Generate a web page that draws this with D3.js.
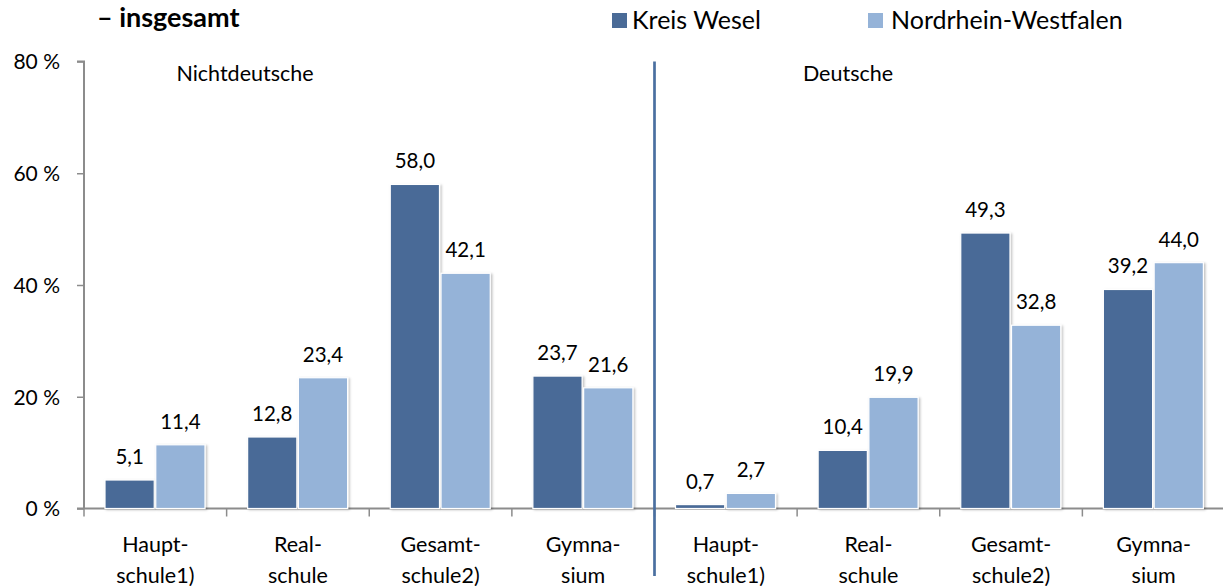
<!DOCTYPE html>
<html>
<head>
<meta charset="utf-8">
<script src="https://cdn.jsdelivr.net/npm/d3@7"></script>
<style>
  html, body { margin: 0; padding: 0; background: #fff; }
  svg { display: block; font-family: Lato, "Noto Sans", sans-serif; }
</style>
</head>
<body>
<svg id="chart" width="1223" height="586"></svg>
<script>
// ---- data ----
const groups = ["Nichtdeutsche", "Deutsche"];
const schoolTypes = ["Hauptschule1)", "Realschule", "Gesamtschule2)", "Gymnasium"];
const schoolLabelLines = [["Haupt-", "schule1)"], ["Real-", "schule"], ["Gesamt-", "schule2)"], ["Gymna-", "sium"]];
const seriesNames = ["Kreis Wesel", "Nordrhein-Westfalen"];
const kreisWesel = [5.1, 12.8, 58.0, 23.7, 0.7, 10.4, 49.3, 39.2];
const nrw = [11.4, 23.4, 42.1, 21.6, 2.7, 19.9, 32.8, 44.0];
const yTicks = [0, 20, 40, 60, 80];
const title = "– insgesamt";

const colors = ["#4a6b97", "#95b3d8"];

// ---- build ----
const categories = [];
groups.forEach((g, gi) => schoolTypes.forEach((s, si) => categories.push({ key: g + "|" + s, group: gi, type: si })));
const seriesValues = [kreisWesel, nrw];

const svg = d3.select("#chart");
const defs = svg.append("defs");
const f = defs.append("filter").attr("id", "shadow").attr("x", "-20%").attr("y", "-20%").attr("width", "140%").attr("height", "140%");
f.append("feDropShadow").attr("dx", 1.5).attr("dy", 1).attr("stdDeviation", 1.2).attr("flood-color", "#000").attr("flood-opacity", 0.25);

const x0 = d3.scaleBand().domain(categories.map(c => c.key)).range([84, 1225]).paddingInner(0).paddingOuter(0);
const x1 = d3.scaleBand().domain(seriesNames).range([21, 121]).paddingInner(0.03);
const y = d3.scaleLinear().domain([0, 80]).range([508.5, 61.5]);

// Title
svg.append("text").attr("x", 97).attr("y", 27).attr("font-size", 27).attr("font-weight", 700).attr("fill", "#000").text(title);

// Legend
const legendPos = [{ sx: 612, tx: 632 }, { sx: 868, tx: 891 }];
seriesNames.forEach((n, i) => {
  svg.append("rect").attr("x", legendPos[i].sx).attr("y", 13).attr("width", 15).attr("height", 15).attr("fill", colors[i]);
  svg.append("text").attr("x", legendPos[i].tx).attr("y", 29).attr("font-size", 25).attr("fill", "#000").text(n);
});

// Y axis
const yAxis = d3.axisLeft(y).tickValues(yTicks).tickSize(7).tickPadding(17).tickFormat(d => d + " %");
const gy = svg.append("g").attr("transform", "translate(84,0)").call(yAxis);
gy.select(".domain").attr("stroke", "#8c8c8c").attr("stroke-width", 2).attr("d", `M-7,${y(80)}H0V${y(0)}`);
gy.selectAll(".tick line").attr("stroke", "#8c8c8c").attr("stroke-width", 1.5);
gy.selectAll(".tick text").attr("font-size", 21).attr("fill", "#000").attr("font-family", "Lato, 'Noto Sans', sans-serif").attr("dy", "0.35em");

// X axis
const gx = svg.append("g").attr("transform", `translate(0,${y(0)})`);
gx.append("line").attr("x1", 77).attr("x2", 1223).attr("y1", 0).attr("y2", 0).attr("stroke", "#8c8c8c").attr("stroke-width", 2.2);
categories.forEach((c, i) => {
  gx.append("line").attr("x1", x0(c.key)).attr("x2", x0(c.key)).attr("y1", 0).attr("y2", 8).attr("stroke", "#8c8c8c").attr("stroke-width", 1.5);
  const cx = x0(c.key) + x0.bandwidth() / 2;
  const lines = schoolLabelLines[c.type];
  lines.forEach((ln, li) => {
    gx.append("text").attr("x", cx).attr("y", 43 + li * 31).attr("text-anchor", "middle").attr("font-size", 21.5).attr("fill", "#000").text(ln);
  });
});

// Bars
categories.forEach((c, ci) => {
  seriesNames.forEach((s, si) => {
    const v = seriesValues[si][ci];
    const bx = x0(c.key) + x1(s);
    svg.append("rect")
      .attr("x", bx).attr("y", y(v)).attr("width", x1.bandwidth()).attr("height", y(0) - y(v))
      .attr("fill", colors[si]).attr("stroke", "#fff").attr("stroke-width", 1.2)
      .attr("filter", "url(#shadow)");
    svg.append("text")
      .attr("x", bx + x1.bandwidth() / 2).attr("y", y(v) - 16)
      .attr("text-anchor", "middle").attr("font-size", 20.5).attr("fill", "#000")
      .text(d3.format(".1f")(v).replace(".", ","));
  });
});

// Divider between groups
const divX = x0(categories[4].key);
svg.append("line").attr("x1", divX).attr("x2", divX).attr("y1", 61.5).attr("y2", 576).attr("stroke", "#4a6fa0").attr("stroke-width", 2.7);

// Group labels
const groupLabelX = [245, 848];
groups.forEach((g, gi) => {
  svg.append("text").attr("x", groupLabelX[gi]).attr("y", 81).attr("text-anchor", "middle").attr("font-size", 21.5).attr("fill", "#000").text(g);
});
</script>
</body>
</html>
